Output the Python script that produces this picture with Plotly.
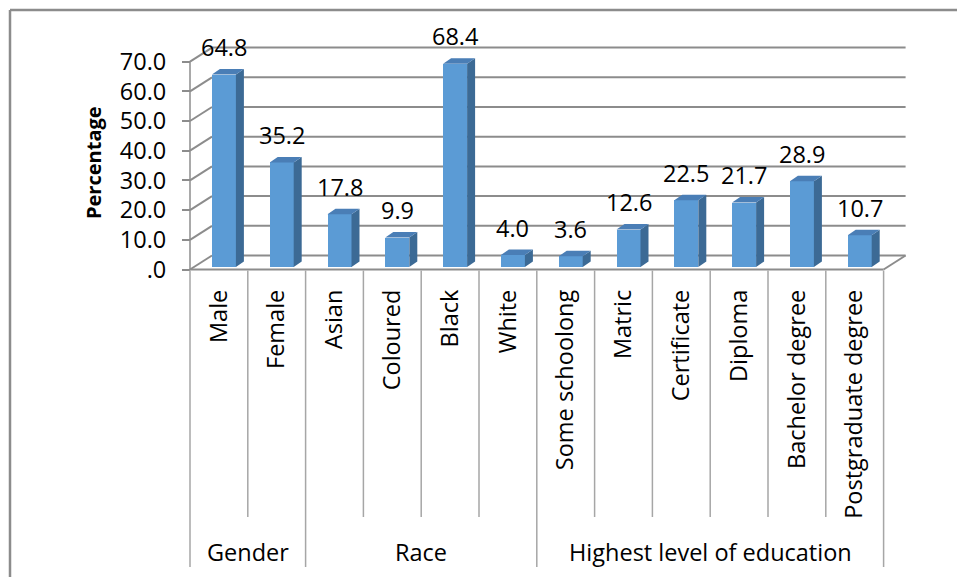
import plotly.graph_objects as go

# ---- data -------------------------------------------------------------
categories = ["Male", "Female",
              "Asian", "Coloured", "Black", "White",
              "Some schoolong", "Matric", "Certificate", "Diploma",
              "Bachelor degree", "Postgraduate degree"]
values = [64.8, 35.2, 17.8, 9.9, 68.4, 4.0, 3.6, 12.6, 22.5, 21.7, 28.9, 10.7]
groups = ["Gender", "Race", "Highest level of education"]
group_sizes = [2, 4, 6]
y_tick_values = [0, 10, 20, 30, 40, 50, 60, 70]
y_tick_labels = [".0", "10.0", "20.0", "30.0", "40.0", "50.0", "60.0", "70.0"]

# ---- geometry (pixels) ------------------------------------------------
W, H = 957, 577
X0_PX, Y0_PX = 190.0, 269.5        # front-left floor corner
PX_PER_X, PX_PER_Y = 57.8, 2.97    # one category / one percent
L_EDGE, R_EDGE, T_EDGE, B_EDGE = 180, 915, 20, 272

n = len(categories)
x_range = [(L_EDGE - X0_PX) / PX_PER_X, (R_EDGE - X0_PX) / PX_PER_X]
y_range = [(Y0_PX - B_EDGE) / PX_PER_Y, (Y0_PX - T_EDGE) / PX_PER_Y]
plot_w = R_EDGE - L_EDGE
plot_h = B_EDGE - T_EDGE


def px_to_paper_x(px):
    return (px - L_EDGE) / plot_w


def px_to_paper_y(py):
    return (B_EDGE - py) / plot_h


# depth of the walls and of each bar, in data units
WALL_DX, WALL_DY = 22 / PX_PER_X, 14 / PX_PER_Y
BAR_SHIFT = 5 / PX_PER_X
BAR_W = 24 / PX_PER_X
BAR_BASE = 2.5 / PX_PER_Y
BAR_DX, BAR_DY = 8 / PX_PER_X, 5.5 / PX_PER_Y

FRONT = "#5B9BD5"
SIDE = "#3C6A95"
TOP = "#4A7EB6"
GRID = "#8C8C8C"
FONT = "Open Sans"
FONT_SIZE = 23.5

fig = go.Figure()

# front faces
bar_x = [i + 0.5 + BAR_SHIFT for i in range(n)]
fig.add_trace(go.Bar(
    x=bar_x, y=values, base=BAR_BASE, width=BAR_W,
    marker=dict(color=FRONT, line=dict(width=0)),
    hoverinfo="skip", showlegend=False,
))

# side and top faces
side_x, side_y, top_x, top_y = [], [], [], []
for cx, v in zip(bar_x, values):
    xl, xr = cx - BAR_W / 2, cx + BAR_W / 2
    y0, y1 = BAR_BASE, BAR_BASE + v
    side_x += [xr, xr + BAR_DX, xr + BAR_DX, xr, xr, None]
    side_y += [y0, y0 + BAR_DY, y1 + BAR_DY, y1, y0, None]
    top_x += [xl, xr, xr + BAR_DX, xl + BAR_DX, xl, None]
    top_y += [y1, y1, y1 + BAR_DY, y1 + BAR_DY, y1, None]

fig.add_trace(go.Scatter(x=side_x, y=side_y, mode="lines", fill="toself",
                         fillcolor=SIDE, line=dict(width=0, color=SIDE),
                         hoverinfo="skip", showlegend=False))
fig.add_trace(go.Scatter(x=top_x, y=top_y, mode="lines", fill="toself",
                         fillcolor=TOP, line=dict(width=0, color=TOP),
                         hoverinfo="skip", showlegend=False))

shapes = []
grid_line = dict(color=GRID, width=2)

# back-wall gridlines and the slanted side-wall lines
for v in y_tick_values:
    shapes.append(dict(type="line", xref="x", yref="y", layer="below",
                       x0=WALL_DX, y0=v + WALL_DY, x1=n + WALL_DX, y1=v + WALL_DY,
                       line=grid_line))
    shapes.append(dict(type="line", xref="x", yref="y", layer="below",
                       x0=0, y0=v, x1=WALL_DX, y1=v + WALL_DY,
                       line=grid_line))

# floor edges and vertical axis line
shapes.append(dict(type="line", xref="x", yref="y", layer="below",
                   x0=0, y0=0, x1=n, y1=0, line=grid_line))
shapes.append(dict(type="line", xref="x", yref="y", layer="below",
                   x0=n, y0=0, x1=n + WALL_DX, y1=WALL_DY, line=grid_line))
shapes.append(dict(type="line", xref="x", yref="y", layer="below",
                   x0=0, y0=0, x1=0, y1=max(y_tick_values),
                   line=dict(color=GRID, width=1.5)))

# category dividers below the floor
group_edges = [0]
for s in group_sizes:
    group_edges.append(group_edges[-1] + s)
for k in range(n + 1):
    px = X0_PX + k * PX_PER_X
    bottom = 567 if k in group_edges else 517
    shapes.append(dict(type="line", xref="paper", yref="paper",
                       x0=px_to_paper_x(px), x1=px_to_paper_x(px),
                       y0=px_to_paper_y(Y0_PX + 1), y1=px_to_paper_y(bottom),
                       line=dict(color="#A6A6A6", width=1.5)))

# outer frame (top and left edges)
shapes.append(dict(type="line", xref="paper", yref="paper",
                   x0=px_to_paper_x(10), x1=px_to_paper_x(W + 5),
                   y0=px_to_paper_y(10), y1=px_to_paper_y(10),
                   line=dict(color=GRID, width=2.5)))
shapes.append(dict(type="line", xref="paper", yref="paper",
                   x0=px_to_paper_x(10), x1=px_to_paper_x(10),
                   y0=px_to_paper_y(10), y1=px_to_paper_y(H + 5),
                   line=dict(color=GRID, width=2.5)))

annotations = []
# value labels above each bar
for cx, v in zip(bar_x, values):
    annotations.append(dict(x=cx, y=BAR_BASE + v + BAR_DY, xref="x", yref="y",
                            text=f"{v:.1f}", showarrow=False, yanchor="middle",
                            yshift=22, font=dict(family=FONT, size=FONT_SIZE, color="black")))

# group labels
for name, a, b in zip(groups, group_edges[:-1], group_edges[1:]):
    annotations.append(dict(x=(a + b) / 2, y=px_to_paper_y(552), xref="x", yref="paper",
                            text=name, showarrow=False, yanchor="middle",
                            font=dict(family=FONT, size=FONT_SIZE, color="black")))

# y-axis title
annotations.append(dict(x=px_to_paper_x(93), y=px_to_paper_y(163), xref="paper", yref="paper",
                        text="<b>Percentage</b>", textangle=-90, showarrow=False,
                        xanchor="center", yanchor="middle",
                        font=dict(family=FONT, size=20, color="black")))

fig.update_layout(
    width=W, height=H,
    margin=dict(l=L_EDGE, r=W - R_EDGE, t=T_EDGE, b=H - B_EDGE, pad=0),
    paper_bgcolor="white", plot_bgcolor="rgba(0,0,0,0)",
    showlegend=False, bargap=0,
    shapes=shapes, annotations=annotations,
    xaxis=dict(range=x_range, showgrid=False, zeroline=False, showline=False,
               tickmode="array", tickvals=[i + 0.5 for i in range(n)],
               ticktext=categories, tickangle=-90, ticks="",
               ticklabelstandoff=12,
               tickfont=dict(family=FONT, size=FONT_SIZE, color="black"),
               fixedrange=True),
    yaxis=dict(range=y_range, showgrid=False, zeroline=False, showline=False,
               anchor="free", position=px_to_paper_x(X0_PX),
               tickmode="array", tickvals=y_tick_values, ticktext=y_tick_labels,
               ticks="outside", ticklen=8, tickcolor=GRID, tickwidth=1.5,
               ticklabelstandoff=11,
               tickfont=dict(family=FONT, size=FONT_SIZE, color="black"),
               fixedrange=True),
)

fig.write_html("out.html")
